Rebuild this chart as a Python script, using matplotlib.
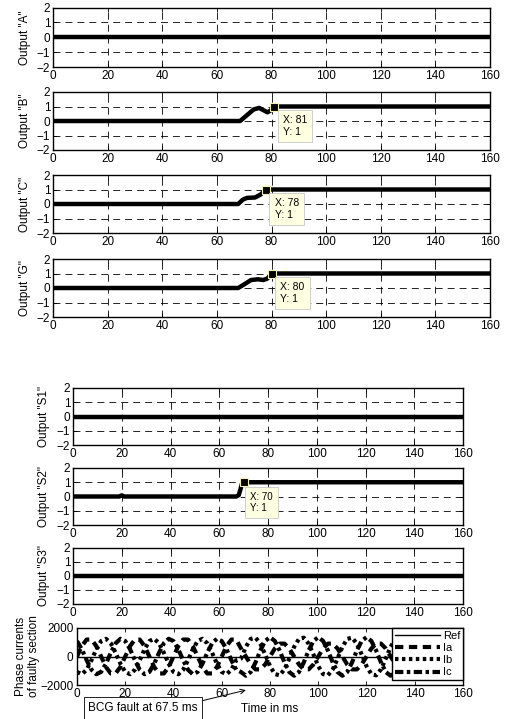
import numpy as np
import matplotlib
matplotlib.use("Agg")
import matplotlib.pyplot as plt

plt.rcParams["font.family"] = ["Liberation Sans", "DejaVu Sans"]
plt.rcParams["lines.scale_dashes"] = False

W, H = 508, 719
FS = 8.5

# ---- relay outputs (time in ms, output level) ----
T_A = [0, 160]
Y_A = [0, 0]
T_B = [0, 68.5, 71, 73.5, 75.5, 77, 78.5, 79.5, 81, 160]
Y_B = [0, 0, 0.4, 0.8, 0.9, 0.75, 0.6, 0.7, 1, 1]
T_C = [0, 67.8, 69.5, 71, 74, 76, 78, 160]
Y_C = [0, 0, 0.3, 0.42, 0.45, 0.65, 1, 1]
T_G = [0, 67.8, 70, 72.5, 75, 77, 78.5, 80, 160]
Y_G = [0, 0, 0.25, 0.55, 0.6, 0.55, 0.65, 1, 1]
T_S1 = [0, 160]
Y_S1 = [0, 0]
T_S2 = [0, 19, 20, 21, 67, 68, 68.7, 69.3, 70, 160]
Y_S2 = [0, 0, 0.08, 0, 0, 0.1, 0.5, 0.9, 1, 1]
T_S3 = [0, 160]
Y_S3 = [0, 0]

# data tips (x, y)
TIP_B = (81, 1)
TIP_C = (78, 1)
TIP_G = (80, 1)
TIP_S2 = (70, 1)

# ---- phase currents, one 20 ms cycle sampled every 2 ms ----
STEP_MS = 2
FAULT_MS = 67.5
IA_PRE = [0, 735, 1189, 1189, 735, 0, -735, -1189, -1189, -735]
IB_PRE = [-1083, -1243, -929, -260, 508, 1083, 1243, 929, 260, -508]
IC_PRE = [1083, 508, -260, -929, -1243, -1083, -508, 260, 929, 1243]
IA_POST = [0, 558, 903, 903, 558, 0, -558, -903, -903, -558]
IB_POST = [-675, -1233, -1320, -903, -141, 675, 1233, 1320, 903, 141]
IC_POST = [1350, 1092, 417, -417, -1092, -1350, -1092, -417, 417, 1092]

t_cur = np.arange(0, 161, STEP_MS)
idx = (t_cur // STEP_MS).astype(int) % len(IA_PRE)
pre = t_cur < FAULT_MS


def phase(pre_cycle, post_cycle):
    return np.where(pre, np.asarray(pre_cycle)[idx], np.asarray(post_cycle)[idx])


ia = phase(IA_PRE, IA_POST)
ib = phase(IB_PRE, IB_POST)
ic = phase(IC_PRE, IC_POST)

fig = plt.figure(figsize=(W / 100, H / 100), dpi=100)


def px_axes(l, t, r, b):
    return fig.add_axes([l / W, 1 - b / H, (r - l) / W, (b - t) / H])


def style(ax, ylabel, lab_x):
    ax.set_xlim(0, 160)
    ax.set_xticks(range(0, 161, 20))
    ax.tick_params(direction="in", top=True, right=True, length=3, width=0.6,
                   labelsize=FS, pad=2.5)
    for s in ax.spines.values():
        s.set_linewidth(1.0)
    ax.set_ylabel(ylabel, fontsize=FS, va="center")
    ax.yaxis.set_label_coords(lab_x, 0.5)


def output_panel(ax, t, y, ylabel, lab_x):
    ax.plot(t, y, color="k", lw=3.2, solid_capstyle="butt", zorder=3)
    ax.set_ylim(-2, 2)
    ax.set_yticks([-2, -1, 0, 1, 2])
    ax.grid(True, color="k", lw=0.6, linestyle=(0, (5, 3.6)))
    style(ax, ylabel, lab_x)
    ax.tick_params(axis="y", pad=2)


def datatip(ax, tip, fs, dx, dy):
    x, y = tip
    ax.plot([x], [y], "s", ms=6, mfc="k", mec="#f5f0b0", mew=0.8, zorder=5)
    ax.annotate(f"X: {x}\nY: {y}", xy=(x, y), xytext=(dx, -dy),
                textcoords="offset points", ha="left", va="top", fontsize=fs,
                bbox=dict(boxstyle="square,pad=0.5", fc="#ffffe1", ec="#c8c8c8", lw=0.6),
                zorder=6)


# upper group
ax_a = px_axes(53, 7.5, 490, 67)
ax_b = px_axes(53, 92, 490, 150)
ax_c = px_axes(53, 175, 490, 233)
ax_g = px_axes(53, 259, 490, 317)
for ax, t, y, name in [(ax_a, T_A, Y_A, 'Output "A"'), (ax_b, T_B, Y_B, 'Output "B"'),
                       (ax_c, T_C, Y_C, 'Output "C"'), (ax_g, T_G, Y_G, 'Output "G"')]:
    output_panel(ax, t, y, name, -0.064)
datatip(ax_b, TIP_B, 7.5, 6.2, 6.2)
datatip(ax_c, TIP_C, 7.5, 6.2, 6.2)
datatip(ax_g, TIP_G, 7.5, 6.2, 6.2)

# lower group
ax_s1 = px_axes(73, 388, 463, 445)
ax_s2 = px_axes(73, 468, 463, 525)
ax_s3 = px_axes(73, 548, 463, 604)
for ax, t, y, name in [(ax_s1, T_S1, Y_S1, 'Output "S1"'), (ax_s2, T_S2, Y_S2, 'Output "S2"'),
                       (ax_s3, T_S3, Y_S3, 'Output "S3"')]:
    output_panel(ax, t, y, name, -0.075)
datatip(ax_s2, TIP_S2, 7, 4.8, 6.8)

# phase currents
ax_i = px_axes(77, 628, 463, 685)
ref, = ax_i.plot([0, 160], [0, 0], color="k", lw=1.0, label="Ref")
la, = ax_i.plot(t_cur, ia, color="k", lw=3, linestyle=(0, (6, 4)), label="Ia")
lb, = ax_i.plot(t_cur, ib, color="k", lw=3, linestyle=(0, (2.5, 2.5)), label="Ib")
lc, = ax_i.plot(t_cur, ic, color="k", lw=3, linestyle=(0, (6, 2.5, 2.5, 2.5)), label="Ic")
ax_i.set_ylim(-2000, 2000)
ax_i.set_yticks([-2000, 0, 2000])
style(ax_i, "Phase currents\nof faulty section", -0.128)
ax_i.set_xlabel("Time in ms", fontsize=FS, labelpad=2)
leg = ax_i.legend(handles=[ref, la, lb, lc], loc="upper right", fontsize=8,
                  handlelength=4.0, handletextpad=0.3, labelspacing=0.2,
                  borderpad=0.25, borderaxespad=0, fancybox=False, framealpha=1,
                  edgecolor="k")
leg.get_frame().set_linewidth(1.0)
leg.set_zorder(10)

ax_i.annotate("BCG fault at 67.5 ms", xy=(70, -0.09), xycoords=("data", "axes fraction"),
              xytext=(0.171, -0.40), textcoords="axes fraction", ha="center", va="center",
              fontsize=FS,
              bbox=dict(boxstyle="square,pad=0.4", fc="white", ec="k", lw=0.6),
              arrowprops=dict(arrowstyle="->", color="k", lw=0.7,
                              relpos=(1.0, 1.0), shrinkA=0, shrinkB=0),
              annotation_clip=False)

fig.savefig("out.png", dpi=100)
